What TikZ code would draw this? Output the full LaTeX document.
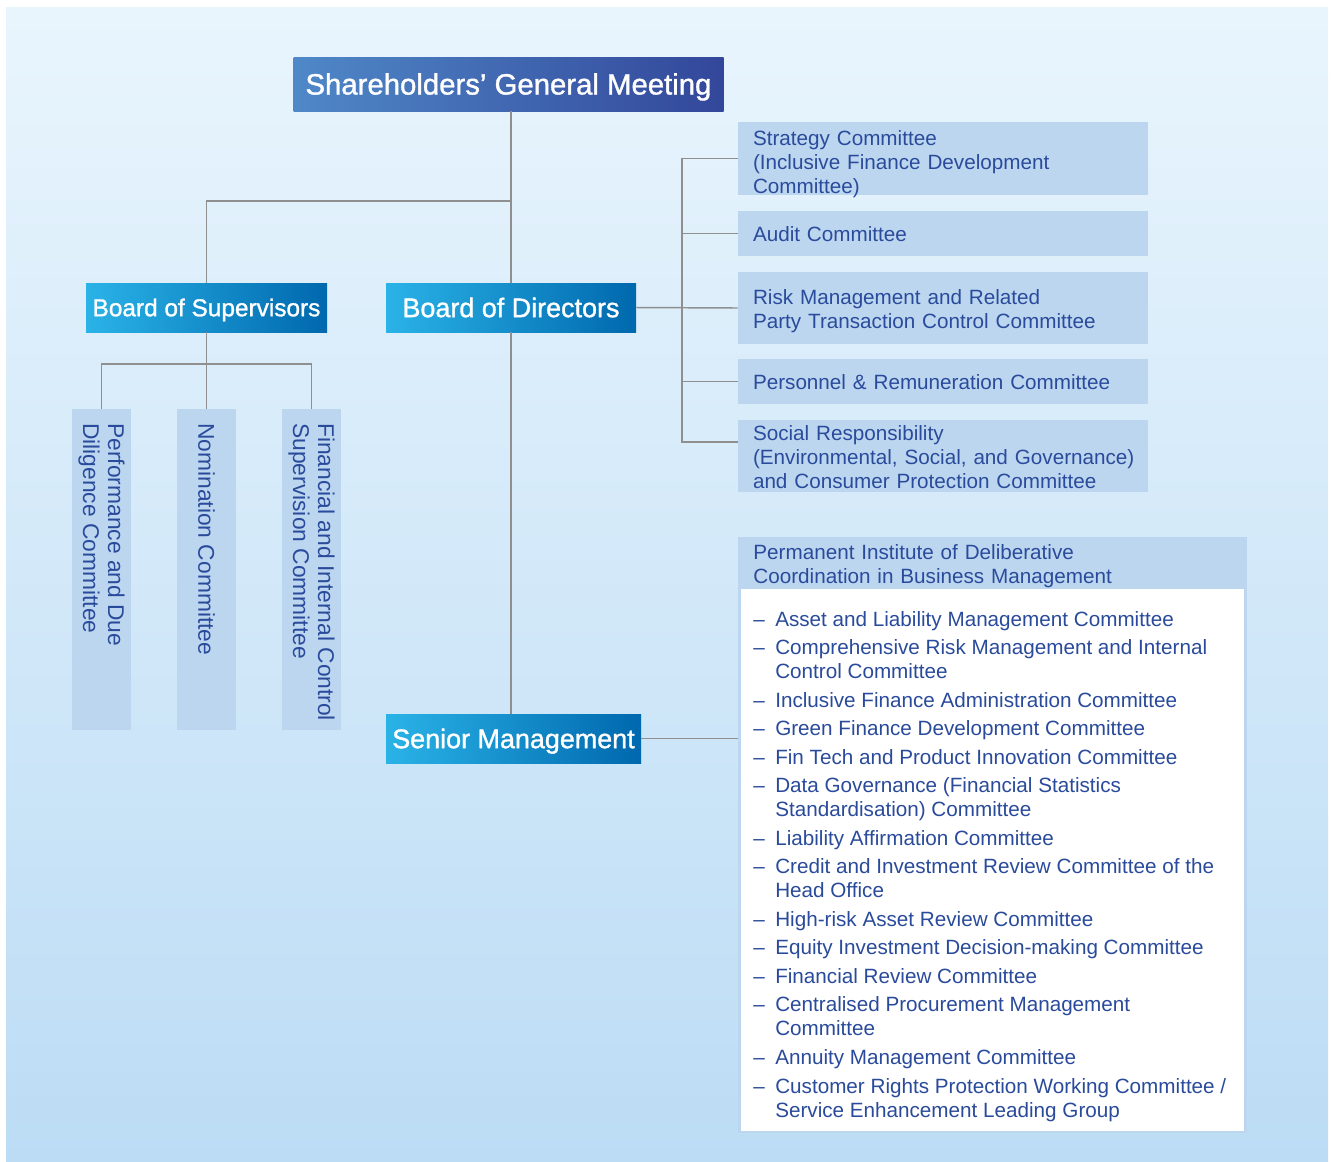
\documentclass[tikz,border=0pt]{standalone}
\usepackage{fontspec}
\setmainfont{Liberation Sans}
\newfontfamily\hdrfont[BoldFont=Liberation Sans, BoldFeatures={FakeBold=1.2}]{Liberation Sans}
\usetikzlibrary{calc}
\definecolor{txtblue}{HTML}{2A4B9B}
\definecolor{lbox}{HTML}{BCD6F0}
\definecolor{lgray}{HTML}{8F8F8F}
\definecolor{bgtop}{HTML}{E9F5FD}
\definecolor{bgbot}{HTML}{BCDCF5}
\definecolor{sgmL}{HTML}{4F88C8}
\definecolor{sgmR}{HTML}{33479A}
\definecolor{bL}{HTML}{2AB3E7}
\definecolor{bM}{HTML}{049CD8}
\definecolor{bR}{HTML}{0068AE}
\begin{document}
\begin{tikzpicture}[x=0.75pt,y=-0.75pt,
  sgmbox/.style={left color=sgmL, right color=sgmR, text=white, inner sep=0pt,
    text height=15.75pt, text depth=0pt, font=\hdrfont\bfseries\fontsize{22}{26}\selectfont},
  bluebox/.style={left color=bL, middle color=bM, right color=bR, text=white, inner sep=0pt,
    text height=14.46pt, text depth=0pt,
    minimum height=36.75pt, font=\hdrfont\bfseries\fontsize{20.2}{24}\selectfont},
  rbox/.style={fill=lbox, text=txtblue, align=left, inner xsep=11.25pt, inner ysep=0pt,
    text width=285pt, text height=12.6pt, text depth=0pt, font=\fontsize{15.5}{18}\selectfont},
  two/.style={text depth=18pt},
  three/.style={text depth=36pt},
  vbox/.style={fill=lbox, minimum width=44.25pt, minimum height=240.75pt, inner sep=0pt},
  vtxt/.style={rotate=-90, anchor=west, align=left, inner sep=0pt, text=txtblue,
    font=\fontsize{17.1}{18.75}\selectfont},
  conn/.style={draw=lgray, line width=1.1pt}
]
\useasboundingbox (0,0) rectangle (1333,1161);
\shade[top color=bgtop, bottom color=bgbot] (6,7) rectangle (1328,1161);

% main boxes
\node[sgmbox, minimum width=322.5pt, minimum height=40.5pt] (sgm) at (508.5,84) {Shareholders’ General Meeting};
\node[bluebox, minimum width=180.75pt, text height=13.1pt, font=\hdrfont\bfseries\fontsize{18.3}{22}\selectfont] (bos) at (206.5,307.5) {Board of Supervisors};
\node[bluebox, minimum width=187.5pt] (bod) at (511,307.5) {Board of Directors};
\node[bluebox, minimum width=191.25pt] (sm) at (513.5,738.5) {Senior Management};

% supervisors' committees
\node[vbox] (v1) at (101.5,569.5) {};
\node[vbox] (v2) at (206.5,569.5) {};
\node[vbox] (v3) at (311.5,569.5) {};
\node[vtxt] (t1) at (101.5,423) {Performance and Due\\Diligence Committee};
\node[vtxt] (t2) at (206.5,423) {Nomination Committee};
\node[vtxt] (t3) at (311.5,423) {Financial and Internal Control\\Supervision Committee};

% directors' committees
\node[rbox, minimum height=54.75pt, text depth=32.25pt] (r1) at (943,158.5) {Strategy Committee\\(Inclusive Finance Development\\Committee)};
\node[rbox, minimum height=33.75pt] (r2) at (943,233.5) {Audit Committee};
\node[rbox, two, minimum height=54pt] (r3) at (943,308) {Risk Management and Related\\Party Transaction Control Committee};
\node[rbox, minimum height=33.75pt] (r4) at (943,381.5) {Personnel \& Remuneration Committee};
\node[rbox, three, minimum height=54pt] (r5) at (943,456) {Social Responsibility\\\mbox{(Environmental, Social, and Governance)}\\and Consumer Protection Committee};

% permanent institute
\node[fill=lbox, minimum width=381.75pt, minimum height=447pt, inner sep=0pt, anchor=north west] (perm) at (738,537) {};
\node[fill=white, minimum width=377.25pt, minimum height=406.5pt, inner sep=0pt, anchor=north west] (wb) at (741,589) {};
\node[rbox, two, minimum height=39pt, text width=359pt] (ph) at ($(perm.north)+(0,26)$) {Permanent Institute of Deliberative\\Coordination in Business Management};
\node[anchor=north west, inner sep=0pt, text=txtblue, font=\fontsize{15.5}{18}\selectfont] (list) at (753,609) {%
\renewcommand{\arraystretch}{1}%
\begin{tabular}{@{}p{16.5pt}@{}l@{}}
–&Asset and Liability Management Committee\\[3.4pt]
–&Comprehensive Risk Management and Internal\\
&Control Committee\\[3.4pt]
–&Inclusive Finance Administration Committee\\[3.4pt]
–&Green Finance Development Committee\\[3.4pt]
–&Fin Tech and Product Innovation Committee\\[3.4pt]
–&Data Governance (Financial Statistics\\
&Standardisation) Committee\\[3.4pt]
–&Liability Affirmation Committee\\[3.4pt]
–&Credit and Investment Review Committee of the\\
&Head Office\\[3.4pt]
–&High-risk Asset Review Committee\\[3.4pt]
–&Equity Investment Decision-making Committee\\[3.4pt]
–&Financial Review Committee\\[3.4pt]
–&Centralised Procurement Management\\
&Committee\\[3.4pt]
–&Annuity Management Committee\\[3.4pt]
–&Customer Rights Protection Working Committee /\\
&Service Enhancement Leading Group
\end{tabular}};

% connectors
\coordinate (j1) at (511,201);
\coordinate (j2) at (206.5,364);
\coordinate (j3) at (682,308);
\coordinate (c5) at (738,442);
\draw[conn] (sgm.south -| bod.north) -- (bod.north);
\draw[conn] (bod.south) -- (bod.south |- sm.north);
\draw[conn] (bos.north) |- (j1);
\draw[conn] (bos.south) -- (j2);
\draw[conn] (v1.north) |- (j2) -| (v3.north);
\draw[conn] (j2) -- (v2.north);
\draw[conn] (bod.east) -- (r3.west);
\draw[conn] (r1.west) -| (j3);
\draw[conn] (j3) |- (c5);
\draw[conn] (r2.west) -- (r2.west -| j3);
\draw[conn] (r4.west) -- (r4.west -| j3);
\draw[conn] (sm.east) -- (sm.east -| perm.west);
\end{tikzpicture}
\end{document}
